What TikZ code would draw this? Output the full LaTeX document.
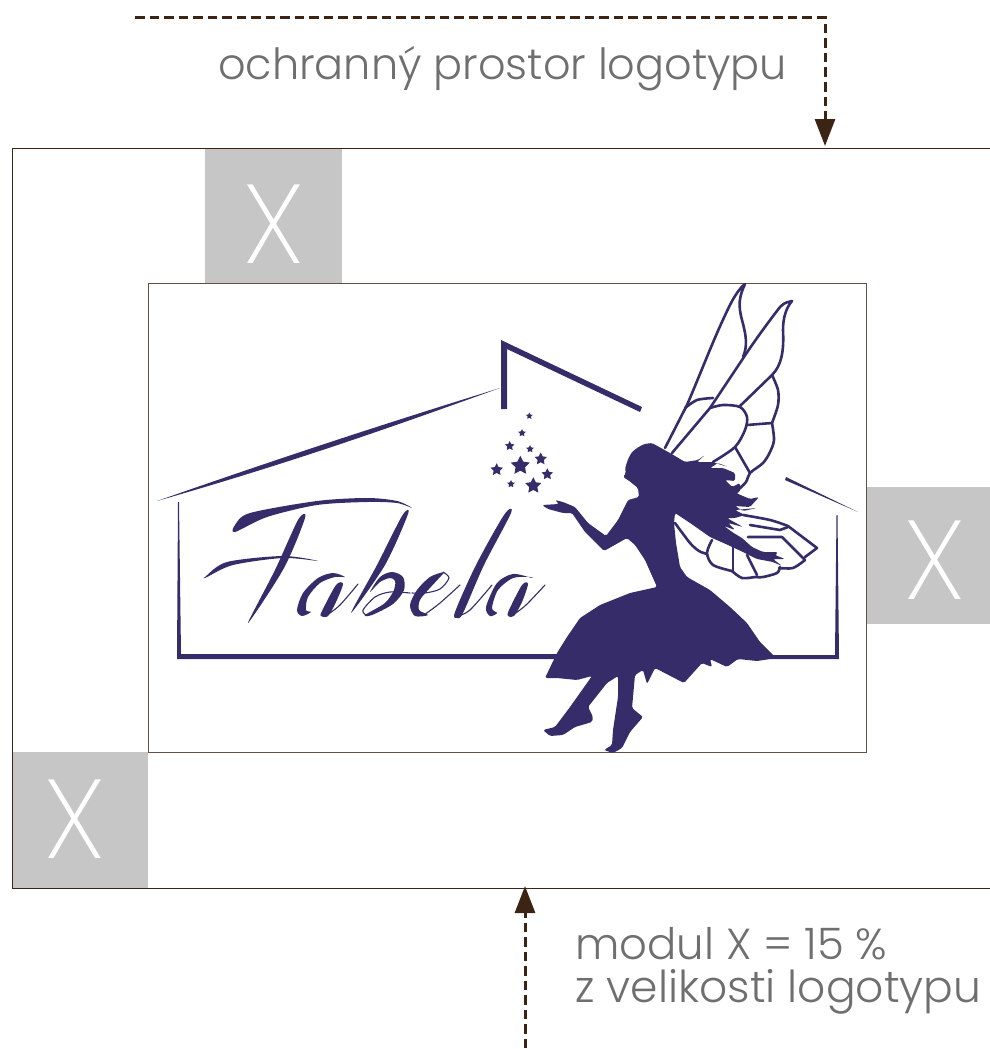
\documentclass[tikz,border=0pt]{standalone}
\usepackage{fontspec}
\usetikzlibrary{arrows.meta,shapes.geometric}
\newfontfamily\labelfont{Poppins Light}
\newfontfamily\modulfont{Poppins ExtraLight}
\definecolor{logoblue}{HTML}{352C69}
\definecolor{framebrown}{HTML}{3C2415}
\definecolor{modulgrey}{HTML}{C6C6C6}
\definecolor{labelgrey}{HTML}{6F6F6E}
\tikzset{
  logofill/.style={fill=logoblue},
  wingline/.style={draw=logoblue,line width=2.6pt,line join=round,line cap=round},
  hairline/.style={draw=logoblue,line width=1.1pt,line cap=round},
  dimline/.style={draw=framebrown,line width=3pt,dash pattern=on 9.5pt off 5pt,-{Triangle[length=27pt,width=20pt]}},
  modulbox/.style={fill=modulgrey},
  modulmark/.style={text=white,inner sep=0pt,font=\modulfont\fontsize{112}{112}\selectfont},
  labeltext/.style={text=labelgrey,inner sep=0pt,anchor=base west,font=\labelfont\fontsize{44}{44}\selectfont},
  fairystar/.style={star,star points=5,star point ratio=2,fill=logoblue,inner sep=0pt}
}
\begin{document}
\begin{tikzpicture}[x=1pt,y=-1pt]
  \path[use as bounding box] (0,0) rectangle (990,1049);
  % Module squares
  \fill[modulbox] (205,148) rectangle (342,283);
  \fill[modulbox] (866,487) rectangle (990,624);
  \fill[modulbox] (12,752) rectangle (148,888);
  \node[modulmark] (xtop) at (274,224) {X};
  \node[modulmark] (xright) at (935,560) {X};
  \node[modulmark] (xleft) at (75,819) {X};
  % Frames
  \draw[framebrown,line width=0.9pt] (990,148) -- (12,148) -- (12,888) -- (990,888);
  \draw[framebrown!80,line width=0.8pt] (148,283) rectangle (866,752);
  % Arrows
  \coordinate (topstart) at (135,18);
  \coordinate (topbend) at (825,18);
  \coordinate (toptip) at (825,146);
  \coordinate (bottomstart) at (525,1048);
  \coordinate (bottomtip) at (525,886);
  \draw[dimline] (topstart) -- (topbend) -- (toptip);
  \draw[dimline] (bottomstart) -- (bottomtip);
  % Labels
  \node[labeltext,font=\labelfont\fontsize{43}{43}\selectfont] (protectlabel) at (218,80) {ochranný prostor logotypu};
  \node[labeltext,font=\labelfont\fontsize{43.4}{43.4}\selectfont] (modullabel) at (575,959) {modul X = 15 \%};
  \node[labeltext] (sizelabel) at (575,1002) {z velikosti logotypu};
  % House
  \fill[logofill] (157,501) .. controls (300,451) and (400,419) .. (500,388) .. controls (400,424) and (300,460) .. (157,501) -- cycle;
  \fill[logofill] (501,340) -- (642,407) -- (640,412) -- (507,349) -- (507,409) -- (501,409) -- cycle;
  \fill[logofill] (786,477) -- (858,512) -- (785,480) -- cycle;
  \fill[logofill] (178,502) -- (179,502) -- (181,654) -- (560,654) -- (560,659) -- (177,659) -- cycle;
  \fill[logofill] (836.5,515) -- (837.5,515) -- (839,659) -- (770,659) -- (770,655) -- (835,655) -- cycle;
  % Fabela lettering
  \fill[logofill] plot[smooth cycle] coordinates {(235,525) (250,513) (317,501) (367,498) (397,501) (412,508) (397,503) (367,502) (317,505) (267,517) (235,532)};
  \fill[logofill] plot[smooth cycle] coordinates {(305,518) (298,520) (275,570) (248,623) (284,568)};
  \fill[logofill] plot[smooth cycle] coordinates {(205,577) (227,562) (283,556) (318,561) (283,558) (233,565) (207,577)};
  % a
  \fill[logofill] plot[smooth cycle] coordinates {(345,577) (333,573) (318,578) (303,593) (297,610) (302,616) (311,612) (306,610) (308,597) (320,583) (335,577)};
  \fill[logofill] plot[smooth cycle] coordinates {(343,584) (336,585) (322,611) (321,616) (328,616) (336,602)};
  \draw[hairline] plot[smooth] coordinates {(327,615) (340,605) (358,584)};
  % b
  \fill[logofill] plot[smooth cycle] coordinates {(408,514) (402,516) (377,565) (351,613) (385,565)};
  \fill[logofill] plot[smooth cycle] coordinates {(370,592) (380,577) (392,572) (403,577) (404,590) (393,604) (372,615) (365,615) (385,603) (394,590) (395,581) (390,578) (380,582)};
  \draw[hairline] plot[smooth] coordinates {(366,615) (363,610) (375,597) (390,592) (410,593)};
  % e
  \fill[logofill] plot[smooth cycle] coordinates {(444,572) (430,577) (417,590) (410,605) (415,616) (428,615) (419,610) (420,600) (429,589) (441,576)};
  \draw[hairline] plot[smooth] coordinates {(424,615) (440,603) (460,585)};
  \draw[hairline] plot[smooth] coordinates {(443,572) (449,578) (440,589) (425,593) (412,593)};
  % l
  \fill[logofill] plot[smooth cycle] coordinates {(511,513) (504,515) (476,565) (455,612) (457,618) (463,613) (484,565)};
  \draw[hairline] plot[smooth] coordinates {(458,616) (470,610) (492,585)};
  % second a
  \fill[logofill] plot[smooth cycle] coordinates {(532,578) (513,574) (497,583) (486,607) (490,616) (497,613) (492,608) (498,590) (513,578) (530,577)};
  \fill[logofill] plot[smooth cycle] coordinates {(528,584) (522,585) (509,610) (508,616) (514,616) (522,602)};
  \draw[hairline] plot[smooth] coordinates {(513,615) (526,605) (545,585)};
  % Stars
  \node[fairystar,minimum size=7pt] (star1) at (529.3,416) {};
  \node[fairystar,minimum size=8pt] (star2) at (522,433) {};
  \node[fairystar,minimum size=10pt] (star3) at (509.7,446) {};
  \node[fairystar,minimum size=8pt] (star4) at (530,449) {};
  \node[fairystar,minimum size=20pt] (star5) at (520.3,465.7) {};
  \node[fairystar,minimum size=13pt] (star6) at (540.7,459) {};
  \node[fairystar,minimum size=13pt] (star7) at (496.7,469.7) {};
  \node[fairystar,minimum size=12pt] (star8) at (547.3,474.3) {};
  \node[fairystar,minimum size=8pt] (star9) at (511,484) {};
  \node[fairystar,minimum size=17pt] (star10) at (533.3,485.7) {};
  % Upper wings
  \draw[wingline] (665,448) -- (687,405) .. controls (700,375) and (715,335) .. (730,305) .. controls (735,295) and (740,288) .. (745,284) .. controls (739,297) and (738,305) .. (742,320) .. controls (746,335) and (748,345) .. (743,357);
  \draw[wingline] (672,453) -- (710,408) -- (742,360) .. controls (755,340) and (770,320) .. (780,307) .. controls (785,302) and (788,302) .. (792,301) .. controls (786,308) and (783,318) .. (783,330) .. controls (784,350) and (782,365) .. (772,375);
  \draw[wingline] plot[smooth] coordinates {(772,375) (778,390) (778,405) (772,423)};
  \draw[wingline] plot[smooth] coordinates {(772,423) (774,440) (770,452) (763,463) (750,473) (746,482) (738,490)};
  \draw[wingline] plot[smooth] coordinates {(685,408) (697,400) (713,398)};
  \draw[wingline] plot[smooth] coordinates {(710,408) (723,405) (740,407) (747,417) (745,430) (735,447) (713,462)};
  \draw[wingline] (772,375) -- (740,406);
  \draw[wingline] (747,425) -- (772,423);
  \draw[wingline] (735,447) -- (750,473);
  % Lower wings
  \draw[wingline] plot[smooth] coordinates {(743,515) (770,520) (788,526)};
  \draw[wingline] (788,526) -- (817,548) -- (805,557);
  \draw[wingline] (788,527) -- (780,530) -- (750,525);
  \draw[wingline] (748,537) -- (782,537) -- (805,560);
  \draw[wingline] plot[smooth] coordinates {(805,560) (793,568) (779,568)};
  \draw[wingline] plot[smooth] coordinates {(675,523) (690,543) (699,551) (707,554)};
  \draw[wingline] plot[smooth] coordinates {(712,540) (707,553) (713,565) (732,571)};
  \draw[wingline] plot[smooth] coordinates {(732,571) (742,578) (755,577)};
  \draw[wingline] plot[smooth] coordinates {(755,577) (763,577) (777,573) (780,567)};
  \draw[wingline] (733,547) -- (733,571);
  \draw[wingline] (747,555) -- (757,575);
  % Fairy
  \fill[logofill,rounded corners=1.6pt] (652,443) -- (644,444) -- (637,448) -- (632,452) -- (629,457) -- (627,462) -- (625,469) -- (626,473) -- (623,477) -- (628,480) -- (638,488) -- (639,497) -- (628,500) -- (618,520) -- (606,536) -- (588,523) -- (575,507) -- (563,502) -- (555,500) -- (559,504) -- (542,505) -- (548,509) -- (563,513) -- (572,513) -- (585,532) -- (604,551) -- (627,538) -- (635,545) -- (645,560) -- (657,587) -- (630,593) -- (600,605) -- (580,618) -- (567,637) -- (557,653) -- (545,678) -- (557,678) -- (577,680) -- (592,676) -- (570,707) -- (555,727) -- (543,730) -- (550,736) -- (563,735) -- (575,727) -- (592,722) -- (593,717) -- (588,707) -- (607,683) -- (618,676) -- (618,697) -- (613,730) -- (612,745) -- (604,750) -- (613,753) -- (622,748) -- (630,732) -- (643,717) -- (632,708) -- (635,675) -- (643,670) -- (647,684) -- (655,668) -- (684,683) -- (702,663) -- (712,667) -- (710,659) -- (727,667) -- (738,659) -- (757,661) -- (777,658) -- (773,655) -- (760,642) -- (747,623) -- (730,607) -- (710,590) -- (687,577) -- (680,567) -- (676,543) -- (674,523) -- (675,513) -- (693,525) -- (710,537) -- (728,545) -- (743,552) -- (757,559) -- (773,562) -- (782,566) -- (773,559) -- (785,559) -- (775,555) -- (778,552) -- (763,552) -- (752,547) -- (742,538) -- (732,532) -- (724,526) -- (735,530) -- (728,523) -- (743,527) -- (727,518) -- (735,518) -- (745,515) -- (735,510) -- (757,508) -- (743,511) -- (735,506) -- (750,507) -- (759,497) -- (750,499) -- (736,493) -- (740,492) -- (740,483) -- (732,487) -- (725,480) -- (735,481) -- (735,473) -- (723,468) -- (710,468) -- (718,463) -- (728,467) -- (712,462) -- (697,462) -- (705,455) -- (698,460) -- (685,462) -- (670,453) -- cycle;
\end{tikzpicture}
\end{document}
